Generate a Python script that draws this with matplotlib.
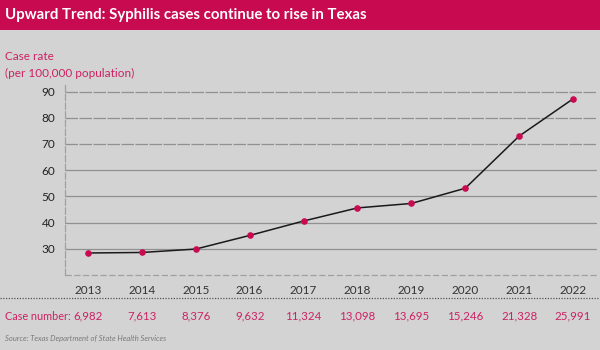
import matplotlib
matplotlib.use("Agg")
import matplotlib.pyplot as plt
from matplotlib.patches import Rectangle
from matplotlib.lines import Line2D

years = [2013, 2014, 2015, 2016, 2017, 2018, 2019, 2020, 2021, 2022]
case_rate = [28.4, 28.6, 29.9, 35.1, 40.6, 45.6, 47.3, 53.1, 73.0, 87.2]
case_numbers = ["6,982", "7,613", "8,376", "9,632", "11,324",
                "13,098", "13,695", "15,246", "21,328", "25,991"]
y_ticks = [30, 40, 50, 60, 70, 80, 90]

MAGENTA = "#c80a50"
PINK = "#cc2262"
BG = "#d3d3d3"
GRID = "#909090"

plt.rcParams["font.family"] = ["Lato", "DejaVu Sans"]

fig = plt.figure(figsize=(6, 3.5), dpi=100, facecolor=BG)

# header band
fig.patches.append(Rectangle((0, 1 - 30 / 350), 1, 30 / 350, transform=fig.transFigure,
                             facecolor=MAGENTA, edgecolor="none", zorder=0))
fig.text(5 / 600, 1 - 15 / 350, "Upward Trend: Syphilis cases continue to rise in Texas",
         color="white", fontsize=10.8, fontweight="bold", va="center", ha="left")

fig.text(5 / 600, 1 - 57 / 350, "Case rate", color=PINK, fontsize=8.5, va="center")
fig.text(5 / 600, 1 - 73 / 350, "(per 100,000 population)", color=PINK, fontsize=8.5, va="center")

ax = fig.add_axes([65 / 600, 1 - 275 / 350, 532 / 600, 190 / 350])
ax.set_facecolor(BG)
ax.set_xlim(2012.573, 2022.445)
ax.set_ylim(20, 92.5)

for v in y_ticks:
    if v >= 70:
        ax.axhline(v, color=GRID, lw=0.9, ls=(0, (10, 1.2)), zorder=1)
    else:
        ax.axhline(v, color=GRID, lw=0.9, zorder=1)
ax.axhline(20, color="#a0a0a0", lw=0.9, ls=(0, (5, 2)), zorder=1, clip_on=False)

for s in ["top", "right", "bottom"]:
    ax.spines[s].set_visible(False)
ax.spines["left"].set_color("#a0a0a0")
ax.spines["left"].set_linestyle((0, (5, 2)))
ax.spines["left"].set_linewidth(0.9)

ax.plot(years, case_rate, color="#1a1a1a", lw=1.1, zorder=3)
ax.scatter(years, case_rate, color=MAGENTA, s=14, zorder=4)

ax.set_yticks(y_ticks)
ax.set_yticklabels([str(v) for v in y_ticks], fontsize=8.5, color="#222222")
ax.tick_params(axis="y", length=0, pad=7)
ax.set_xticks(years)
ax.set_xticklabels([str(y) for y in years], fontsize=8.5, color="#333333")
ax.tick_params(axis="x", length=0, pad=7)

# dotted separator
fig.add_artist(Line2D([0, 1], [1 - 298 / 350] * 2, transform=fig.transFigure,
                      color="#555555", lw=0.9, ls=(0, (1, 1.2))))

fig.text(5 / 600, 1 - 316 / 350, "Case number:", color=PINK, fontsize=7.8, va="center")
for yr, n in zip(years, case_numbers):
    xfig = fig.transFigure.inverted().transform(ax.transData.transform((yr, 0)))[0]
    fig.text(xfig, 1 - 316 / 350, n, color=PINK, fontsize=8.3, va="center", ha="center")

fig.text(5 / 600, 1 - 338 / 350, "Source: Texas Department of State Health Services",
         color="#7a7a7a", fontsize=5.5, style="italic", va="center")

fig.savefig("out.png", dpi=100, facecolor=BG)
